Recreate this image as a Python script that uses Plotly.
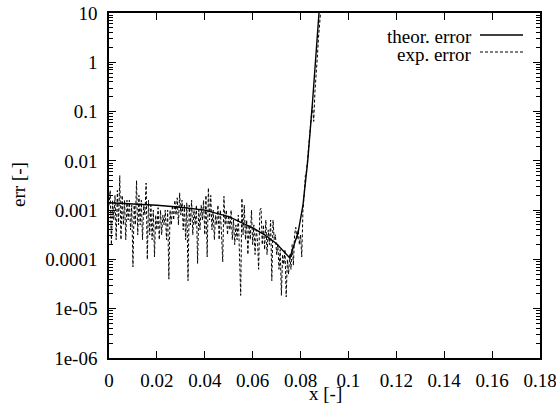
import numpy as np
import plotly.graph_objects as go

# theoretical error curve (x, log10 err)
theor_x = [0.0, 0.01, 0.02, 0.03, 0.04, 0.05, 0.055, 0.06, 0.065, 0.07, 0.0755,
           0.079, 0.081, 0.083, 0.085, 0.0877, 0.089]
theor_log10 = [-2.85, -2.87, -2.90, -2.94, -3.00, -3.13, -3.24, -3.36, -3.50, -3.68, -3.97,
               -3.45, -2.90, -2.00, -0.80, 1.00, 1.40]

exp_log10 = [
    -2.9, -2.6, -3.7, -2.8, -3.2, -2.7, -3.6, -2.6, -3.3, -2.3,
    -3.6, -2.7, -3.3, -2.8, -3.6, -2.8, -3.2, -2.8, -3.4, -2.9,
    -4.15, -2.9, -3.3, -2.4, -3.5, -2.7, -3.3, -2.8, -3.6, -2.9,
    -3.1, -2.45, -4.0, -2.8, -3.5, -2.9, -3.6, -3.0, -3.95, -3.1,
    -3.4, -2.95, -3.6, -3.0, -3.5, -3.1, -3.3, -3.0, -3.6, -3.0,
    -4.4, -3.0, -3.3, -2.9, -3.2, -2.8, -3.1, -2.75, -3.3, -2.65,
    -3.1, -2.8, -3.4, -2.9, -3.6, -2.85, -4.43, -2.9, -3.3, -2.8,
    -3.5, -3.0, -3.3, -2.9, -4.08, -3.0, -3.4, -2.9, -3.2, -2.8,
    -3.5, -2.7, -3.95, -2.55, -3.2, -2.7, -3.4, -3.0, -3.6, -3.1,
    -3.3, -2.9, -3.6, -3.0, -3.5, -4.05, -2.72, -3.3, -3.0, -3.5,
    -3.1, -3.4, -3.0, -3.6, -3.2, -3.7, -3.3, -3.6, -3.1, -3.8,
    -4.73, -2.76, -3.5, -2.9, -3.6, -3.2, -3.9, -3.3, -3.6, -3.0,
    -3.7, -3.3, -3.9, -3.4, -3.6, -4.2, -3.0, -2.96, -3.7, -3.3,
    -3.8, -3.2, -3.9, -3.4, -3.7, -3.2, -4.43, -3.2, -3.6, -3.5,
    -3.9, -3.7, -4.2, -3.8, -4.73, -3.9, -4.1, -3.8, -4.76, -4.0,
    -4.3, -3.9, -4.2, -3.7, -4.12, -3.5, -3.35, -3.6, -3.4, -3.7,
    -3.5, -3.95, -3.0, -2.7, -2.3, -2.2, -1.9, -1.6, -1.3, -1.1,
    -0.9, -1.2, -0.6, -0.3, 0.1, 0.5, 0.8, 1.1, 1.4,
]
exp_x = np.round(np.arange(len(exp_log10)) * 0.0005, 4)

y_tickvals = [1e-6, 1e-5, 1e-4, 1e-3, 1e-2, 1e-1, 1, 10]
y_ticktext = ["1e-06", "1e-05", "0.0001", "0.001", "0.01", "0.1", "1", "10"]
x_tickvals = [0, 0.02, 0.04, 0.06, 0.08, 0.1, 0.12, 0.14, 0.16, 0.18]
x_ticktext = ["0", "0.02", "0.04", "0.06", "0.08", "0.1", "0.12", "0.14", "0.16", "0.18"]
legend_labels = ["theor. error", "exp. error"]

theor_y = [10 ** v for v in theor_log10]
exp_y = [10 ** v for v in exp_log10]

minor_vals = [m * 10.0 ** e for e in range(-6, 1) for m in range(2, 10)]

FONT = "Liberation Serif"
W, H = 556, 407
L, R, T, B = 109, 16, 13, 49
PW, PH = W - L - R, H - T - B


def px_x(wx):  # window pixel -> paper x
    return (wx - L) / PW


def px_y(wy):  # window pixel -> paper y
    return 1 - (wy - T) / PH


fig = go.Figure()
fig.add_trace(go.Scatter(x=theor_x, y=theor_y, mode="lines", name=legend_labels[0],
                         line=dict(color="black", width=1.4), showlegend=False))
fig.add_trace(go.Scatter(x=exp_x, y=exp_y, mode="lines", name=legend_labels[1],
                         line=dict(color="black", width=1, dash="3px,2px"), showlegend=False))

# legend drawn gnuplot-style: text then line sample
for lab, dash, w, ty, ly in zip(legend_labels, ["solid", "3px,2px"], [1.4, 1],
                                [36, 54], [35, 52]):
    fig.add_annotation(x=px_x(474), y=px_y(ty), xref="paper", yref="paper",
                       text=lab, showarrow=False, xanchor="right", yanchor="middle",
                       font=dict(family=FONT, size=19, color="black"))
    fig.add_shape(type="line", xref="paper", yref="paper",
                  x0=px_x(480), x1=px_x(523), y0=px_y(ly), y1=px_y(ly),
                  line=dict(color="black", width=w, dash=dash))

# axis titles
fig.add_annotation(x=px_x(325), y=px_y(393), xref="paper", yref="paper",
                   text="x [-]", showarrow=False, xanchor="center", yanchor="middle",
                   font=dict(family=FONT, size=19, color="black"))
fig.add_annotation(x=px_x(18), y=px_y(185), xref="paper", yref="paper",
                   text="err [-]", showarrow=False, textangle=-90, xanchor="center",
                   yanchor="middle", font=dict(family=FONT, size=19, color="black"))

fig.update_layout(
    width=W, height=H,
    margin=dict(l=L, r=R, t=T, b=B),
    paper_bgcolor="white", plot_bgcolor="white",
    font=dict(family=FONT, size=19, color="black"),
    xaxis=dict(range=[0, 0.18000001], tickvals=x_tickvals, ticktext=x_ticktext,
               automargin=False, ticklabelstandoff=4, ticklabeloverflow="allow",
               ticks="inside", ticklen=7, tickcolor="black", showgrid=False, zeroline=False,
               showline=True, linecolor="black", linewidth=1.5, mirror="ticks"),
    yaxis=dict(type="log", range=[-6, 1], tickvals=y_tickvals, ticktext=y_ticktext,
               automargin=False, ticklabelstandoff=6, ticklabeloverflow="allow",
               ticks="inside", ticklen=7, tickcolor="black", showgrid=False, zeroline=False,
               showline=True, linecolor="black", linewidth=1.5, mirror="ticks",
               minor=dict(tickvals=minor_vals, ticks="inside", ticklen=4, tickcolor="black",
                          showgrid=False)),
)
fig.write_html(
    "out.html",
    config={"displayModeBar": False},
    post_script="document.body.style.margin='0';document.body.style.overflow='hidden';",
)
